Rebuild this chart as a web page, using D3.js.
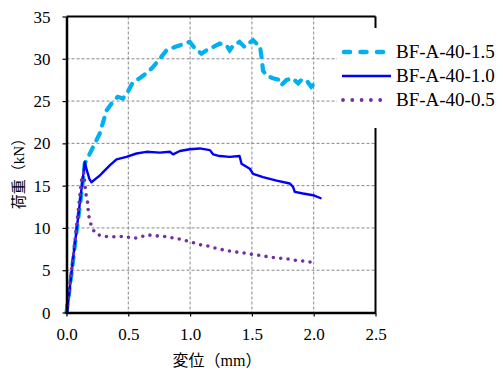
<!DOCTYPE html>
<html>
<head>
<meta charset="utf-8">
<script src="https://d3js.org/d3.v7.min.js"></script>
<style>
  body { margin: 0; background: #fff; }
  svg text { font-family: "Liberation Serif", "Noto Sans CJK JP", serif; }
</style>
</head>
<body>
<div id="chart"></div>
<script>
// displacement (mm) / load (kN)
var s15x = [0, 0.04, 0.08, 0.12, 0.148, 0.213, 0.27, 0.294, 0.324, 0.374, 0.415, 0.456, 0.496, 0.536, 0.592, 0.647, 0.698, 0.755, 0.809, 0.877, 0.957, 0.998, 1.04, 1.092, 1.133, 1.186, 1.24, 1.294, 1.32, 1.35, 1.40, 1.44, 1.47, 1.51, 1.537, 1.564, 1.578, 1.59, 1.618, 1.67, 1.725, 1.74, 1.78, 1.83, 1.874, 1.90, 1.94, 1.98, 2.02, 2.03];
var s15y = [0, 4.6, 9.4, 14.0, 17.6, 19.5, 21.2, 22.4, 23.9, 24.9, 25.5, 25.3, 26.1, 27.2, 27.7, 28.3, 29.0, 30.0, 31.0, 31.4, 31.8, 32.0, 31.2, 30.6, 31.0, 31.4, 31.8, 31.6, 31.0, 31.6, 32.0, 31.4, 31.8, 32.2, 31.8, 31.6, 30.2, 28.6, 28.0, 27.7, 27.5, 26.9, 27.5, 27.7, 27.1, 27.5, 27.5, 26.7, 27.3, 27.0];

var s10x = [0.005, 0.05, 0.1, 0.148, 0.165, 0.185, 0.202, 0.235, 0.27, 0.296, 0.35, 0.405, 0.485, 0.566, 0.647, 0.755, 0.836, 0.862, 0.917, 0.998, 1.078, 1.16, 1.186, 1.24, 1.32, 1.40, 1.416, 1.483, 1.51, 1.59, 1.70, 1.807, 1.833, 1.847, 1.914, 1.995, 2.063];
var s10y = [0, 6.0, 12.0, 17.8, 16.8, 15.8, 15.4, 15.8, 16.2, 16.6, 17.4, 18.1, 18.4, 18.8, 19.0, 18.9, 19.0, 18.7, 19.1, 19.3, 19.4, 19.2, 18.7, 18.5, 18.4, 18.5, 17.6, 17.0, 16.4, 16.0, 15.6, 15.25, 14.85, 14.26, 14.07, 13.87, 13.48];

var s05x = [0, 0.06, 0.121, 0.14, 0.156, 0.17, 0.175, 0.183, 0.2, 0.229, 0.283, 0.35, 0.405, 0.472, 0.534, 0.593, 0.652, 0.70, 0.76, 0.822, 0.876, 0.938, 0.992, 1.05, 1.09, 1.154, 1.213, 1.275, 1.34, 1.397, 1.45, 1.515, 1.572, 1.63, 1.693, 1.752, 1.815, 1.869, 1.928, 1.987];
var s05y = [0, 7.3, 15.6, 16.5, 14.1, 13.1, 12.2, 11.2, 10.3, 9.4, 9.03, 8.95, 8.95, 9.03, 8.76, 8.88, 9.19, 9.1, 9.03, 8.95, 8.76, 8.64, 8.36, 8.17, 7.97, 7.85, 7.58, 7.38, 7.22, 7.1, 7.02, 6.82, 6.75, 6.59, 6.47, 6.4, 6.28, 6.12, 6.08, 5.93];

var xTicks = [0, 0.5, 1.0, 1.5, 2.0, 2.5];
var yTicks = [0, 5, 10, 15, 20, 25, 30, 35];
var names = ["BF-A-40-1.5", "BF-A-40-1.0", "BF-A-40-0.5"];

var W = 503, H = 371;
var svg = d3.select("#chart").append("svg").attr("width", W).attr("height", H);

var x = d3.scaleLinear().domain([0, 2.5]).range([66.5, 375.5]);
var y = d3.scaleLinear().domain([0, 35]).range([312.5, 16.5]);

// grid
svg.selectAll(".gx").data(xTicks.slice(1, -1)).enter().append("line")
  .attr("x1", d => x(d)).attr("x2", d => x(d))
  .attr("y1", y(35)).attr("y2", y(0))
  .attr("stroke", "#888").attr("stroke-width", 1).attr("stroke-dasharray", "3,2");
svg.selectAll(".gy").data(yTicks.slice(1, -1)).enter().append("line")
  .attr("x1", x(0)).attr("x2", x(2.5))
  .attr("y1", d => y(d)).attr("y2", d => y(d))
  .attr("stroke", "#888").attr("stroke-width", 1).attr("stroke-dasharray", "3,2");

// frame
svg.append("line").attr("x1", x(0)).attr("x2", x(2.5)).attr("y1", y(35)).attr("y2", y(35))
  .attr("stroke", "#000").attr("stroke-width", 2);
svg.append("line").attr("x1", x(2.5)).attr("x2", x(2.5)).attr("y1", y(35)).attr("y2", y(0))
  .attr("stroke", "#000").attr("stroke-width", 2);

var line = d3.line().x(d => x(d[0])).y(d => y(d[1]));

svg.append("path").datum(d3.zip(s15x, s15y)).attr("d", line)
  .attr("fill", "none").attr("stroke", "#00b0f0").attr("stroke-width", 4.2)
  .attr("stroke-linecap", "round").attr("stroke-dasharray", "8,8");
svg.append("path").datum(d3.zip(s10x, s10y)).attr("d", line)
  .attr("fill", "none").attr("stroke", "#0000ff").attr("stroke-width", 2.4)
  .attr("stroke-linejoin", "round");
svg.append("path").datum(d3.zip(s05x, s05y)).attr("d", line)
  .attr("fill", "none").attr("stroke", "#7030a0").attr("stroke-width", 3.6)
  .attr("stroke-linecap", "round").attr("stroke-dasharray", "0,7.4");

// axes
var gx = svg.append("g").attr("transform", "translate(0," + y(0) + ")")
  .call(d3.axisBottom(x).tickValues(xTicks).tickFormat(d3.format(".1f")).tickSize(4).tickSizeOuter(0));
var gy = svg.append("g").attr("transform", "translate(" + x(0) + ",0)")
  .call(d3.axisLeft(y).tickValues(yTicks).tickSize(4).tickSizeOuter(0));
[gx, gy].forEach(g => {
  g.select(".domain").attr("stroke", "#000").attr("stroke-width", 2.5);
  g.selectAll(".tick line").attr("stroke", "#000").attr("stroke-width", 1.2);
  g.selectAll("text").attr("font-size", 17).attr("fill", "#000")
    .style("font-family", "'Liberation Serif', serif");
});
gx.selectAll("text").attr("y", 27.5).attr("dy", 0);
gy.selectAll("text").attr("x", -16).attr("dy", "0.33em");

// axis titles
svg.append("text").attr("x", 217).attr("y", 366).attr("text-anchor", "middle")
  .attr("font-size", 16).text("変位（mm）");
svg.append("text").attr("transform", "translate(24,170) rotate(-90)")
  .attr("text-anchor", "middle").attr("font-size", 15).text("荷重（kN）");

// legend
var lg = svg.append("g");
lg.append("rect").attr("x", 337).attr("y", 28).attr("width", 166).attr("height", 100).attr("fill", "#fff");
var styles = [
  {c: "#00b0f0", w: 4.5, da: "6,10.5", cap: "round", x1: 344, x2: 383},
  {c: "#0000ff", w: 2.6, da: null, cap: "butt", x1: 342, x2: 391},
  {c: "#7030a0", w: 3.8, da: "0,9.3", cap: "round", x1: 343, x2: 382}
];
names.forEach(function (n, i) {
  var yy = 52 + i * 24;
  var st = styles[i];
  lg.append("line").attr("x1", st.x1).attr("x2", st.x2).attr("y1", yy).attr("y2", yy)
    .attr("stroke", st.c).attr("stroke-width", st.w).attr("stroke-linecap", st.cap)
    .attr("stroke-dasharray", st.da);
  lg.append("text").attr("x", 396).attr("y", yy + 6.3).attr("font-size", 19).text(n);
});
</script>
</body>
</html>
